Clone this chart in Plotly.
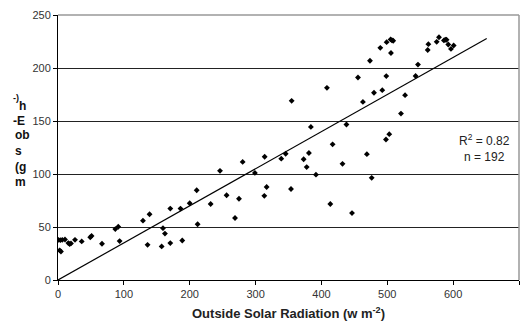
import plotly.graph_objects as go

# ---- data ----
radiation = [0.5, 3.5, 6.5, 10.6, 2.6, 4.5, 15.7, 17.7, 19.7, 25.8, 36, 49, 51, 66.8,
             87, 91.5, 93.6, 129, 139, 136, 157.4, 159.4, 162.4, 170.5, 170.5, 186,
             188.7, 200, 212, 210.6, 231.8, 246, 256, 268.8, 274.8, 280.4, 299, 313.8,
             313.3, 316.8, 339, 345.7, 353.8, 354.8, 373, 377.6, 381, 384, 391.7, 408.4,
             413.5, 417, 438, 432, 446.4, 455.5, 463, 469, 473.7, 476.3, 479.8, 489.4,
             492.4, 498, 498.5, 499, 503, 505, 507, 509, 505.6, 520.8, 527, 543, 546.6,
             561.4, 562.4, 575, 578.5, 586, 588, 590, 592.6, 596.7, 600.8]
e_obs = [37.9, 37.6, 37.9, 38.2, 28, 26.8, 34.8, 33.9, 34.5, 37.9, 36.4, 40.3, 41.6, 34.2,
         48, 50.2, 36.7, 56, 62, 33.2, 31.7, 48.9, 43.8, 34.8, 67.4, 67.4,
         37.3, 72.4, 52.6, 84.7, 71.7, 103, 80, 58.5, 76.6, 111.4, 101, 116.3,
         79.4, 87.7, 114.5, 119.1, 85.9, 169, 113.9, 106.5, 119.8, 144.4, 99.4, 181.3,
         71.7, 128, 146.7, 109.6, 63.1, 191, 168, 118.7, 206.8, 96.4, 176.7, 219,
         179.1, 132.5, 192.4, 224.4, 137.6, 227, 226.2, 225.7, 214.2, 157, 174.4, 192.5, 203.2,
         217, 222.5, 224.7, 229, 226, 226.6, 226.6, 222.2, 218, 221.2]
trend_slope = 0.35
trend_x = [0, 651]
x_ticks = [0, 100, 200, 300, 400, 500, 600, 700]
y_ticks = [0, 50, 100, 150, 200, 250]
stats_text = "R<sup>2</sup> = 0.82<br>n = 192"
y_title_parts = ["-)", "h", "-E", "ob", "s", "(g", "m"]

FONT = "Liberation Sans, Arial, sans-serif"
W, H = 528, 329
L, R, T, B = 58, 9, 9, 49
PW = W - L - R
PH = H - T - B

def px_x(px):
    return (px - L) / PW

def px_y(py):
    return (H - B - py) / PH

fig = go.Figure()
fig.add_trace(go.Scatter(
    x=radiation, y=e_obs, mode="markers",
    marker=dict(symbol="diamond", size=4.5, color="black", line=dict(width=0)),
    showlegend=False, hoverinfo="skip"))
fig.add_trace(go.Scatter(
    x=trend_x, y=[trend_slope * v for v in trend_x], mode="lines",
    line=dict(color="black", width=1.2), showlegend=False, hoverinfo="skip"))

fig.update_layout(
    width=W, height=H,
    margin=dict(l=L, r=R, t=T, b=B),
    paper_bgcolor="white", plot_bgcolor="white",
    font=dict(family=FONT, size=11, color="#222"),
    xaxis=dict(range=[0, 700], tickvals=x_ticks, showgrid=False, zeroline=False,
               showline=True, linecolor="black", linewidth=1,
               ticks="outside", ticklen=4, tickcolor="black",
               tickfont=dict(size=11, color="#333"),
               mirror=False),
    yaxis=dict(range=[0, 250], tickvals=y_ticks, showgrid=True, gridcolor="#222",
               gridwidth=1, zeroline=False,
               showline=True, linecolor="black", linewidth=1,
               ticks="outside", ticklen=4, tickcolor="black",
               tickfont=dict(size=11, color="#333")),
    shapes=[
        dict(type="line", xref="paper", yref="paper", x0=1, x1=1, y0=0, y1=1,
             line=dict(color="#999", width=1.5)),
        dict(type="line", xref="paper", yref="paper", x0=0, x1=1, y0=1, y1=1,
             line=dict(color="#999", width=1.5)),
    ],
)

annotations = [
    dict(text="<b>Outside Solar Radiation (w m<sup>-2</sup>)</b>", xref="paper", yref="paper",
         x=0.5, y=px_y(314), xanchor="center", yanchor="middle", showarrow=False,
         font=dict(size=13, color="#222", family=FONT)),
    dict(text=stats_text, xref="paper", yref="paper", x=px_x(484), y=px_y(145),
         xanchor="center", yanchor="middle", showarrow=False, align="center",
         font=dict(size=12, color="#222", family=FONT)),
]
y_title_pos = [(11, 94), (17, 102), (11, 117), (13, 132), (13, 148), (13, 164), (13, 180)]
for txt, (px, py) in zip(y_title_parts, y_title_pos):
    size = 9 if txt == "-)" else 12
    annotations.append(dict(text="<b>" + txt + "</b>", xref="paper", yref="paper",
                            x=px_x(px), y=px_y(py), xanchor="left", yanchor="middle",
                            showarrow=False, font=dict(size=size, color="#111", family=FONT)))
fig.update_layout(annotations=annotations)

fig.write_html("out.html")
